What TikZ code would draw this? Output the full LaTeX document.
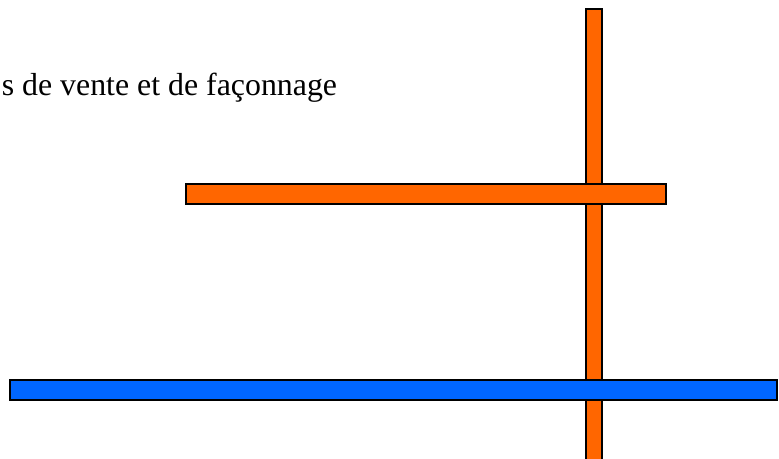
\documentclass[tikz,border=0pt]{standalone}
\usepackage{fontspec}
\setmainfont{Liberation Serif}
\definecolor{orng}{HTML}{FF6600}
\definecolor{blu}{HTML}{0066FF}
\begin{document}
\begin{tikzpicture}[x=0.75pt,y=-0.75pt,
  bar/.style={draw=black,line width=1.1pt}]
\useasboundingbox (0,0) rectangle (779,459);
\path[bar,fill=orng] (586,9) rectangle (602,470);
\path[bar,fill=orng] (186,184) rectangle (666,204);
\path[bar,fill=blu] (10,380) rectangle (777,400);
\node[anchor=base west,inner sep=0pt,font=\fontsize{23.9pt}{28pt}\selectfont] (t) at (1.5,96) {s de vente et de façonnage};
\end{tikzpicture}
\end{document}
